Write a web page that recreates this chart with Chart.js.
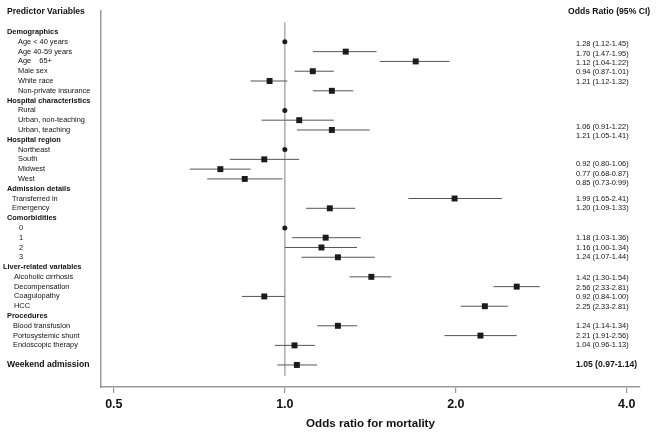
<!DOCTYPE html>
<html><head><meta charset="utf-8">
<script src="https://cdn.jsdelivr.net/npm/chart.js@4.4.1/dist/chart.umd.min.js"></script>
<style>html,body{margin:0;padding:0;background:#fff}#wrap{width:656px;height:434px;position:relative}</style>
</head><body><div id="wrap"><canvas id="c" width="656" height="434"></canvas></div>
<script>
// ---- data ----
const rowLabels = ['Demographics','Age < 40 years','Age 40-59 years','Age    65+','Male sex','White race','Non-private insurance',
  'Hospital characteristics','Rural','Urban, non-teaching','Urban, teaching',
  'Hospital region','Northeast','South','Midwest','West',
  'Admission details','Transferred in','Emergency',
  'Comorbidities','0','1','2','3',
  'Liver-related variables','Alcoholic cirrhosis','Decompensation','Coagulopathy','HCC',
  'Procedures','Blood transfusion','Portosystemic shunt','Endoscopic therapy','','Weekend admission'];
const sectionHeaders = ['Demographics','Hospital characteristics','Hospital region','Admission details','Comorbidities','Liver-related variables','Procedures'];
const boldRows = ['Weekend admission'];
const oddsRatio = [null,1,1.28,1.70,1.12,0.94,1.21, null,1,1.06,1.21, null,1,0.92,0.77,0.85, null,1.99,1.20, null,1,1.18,1.16,1.24, null,1.42,2.56,0.92,2.25, null,1.24,2.21,1.04, null,1.05];
const ciLow     = [null,null,1.12,1.47,1.04,0.87,1.12, null,null,0.91,1.05, null,null,0.80,0.68,0.73, null,1.65,1.09, null,null,1.03,1.00,1.07, null,1.30,2.33,0.84,2.04, null,1.14,1.91,0.96, null,0.97];
const ciHigh    = [null,null,1.45,1.95,1.22,1.01,1.32, null,null,1.22,1.41, null,null,1.06,0.87,0.99, null,2.41,1.33, null,null,1.36,1.34,1.44, null,1.54,2.81,1.00,2.47, null,1.34,2.56,1.13, null,1.14];
const ciText = ['1.28 (1.12-1.45)','1.70 (1.47-1.95)','1.12 (1.04-1.22)','0.94 (0.87-1.01)','1.21 (1.12-1.32)',
  '1.06 (0.91-1.22)','1.21 (1.05-1.41)',
  '0.92 (0.80-1.06)','0.77 (0.68-0.87)','0.85 (0.73-0.99)',
  '1.99 (1.65-2.41)','1.20 (1.09-1.33)',
  '1.18 (1.03-1.36)','1.16 (1.00-1.34)','1.24 (1.07-1.44)',
  '1.42 (1.30-1.54)','2.56 (2.33-2.81)','0.92 (0.84-1.00)','2.25 (2.33-2.81)',
  '1.24 (1.14-1.34)','2.21 (1.91-2.56)','1.04 (0.96-1.13)',
  '1.05 (0.97-1.14)'];
const ciTextRow = [1.25,2.2,3.2,4.1,5.1, 9.7,10.65, 13.45,14.45,15.45, 17,18, 21,22,23, 25.1,26.1,27.1,28.1, 30,31,32, 33.95];
const ciTextBold = ['1.05 (0.97-1.14)'];
const xTicks = [0.5, 1.0, 2.0, 4.0];
const referenceValue = 1;
const leftTitle = 'Predictor Variables';
const rightTitle = 'Odds Ratio (95% CI)';
const xTitle = 'Odds ratio for mortality';

// ---- styles ----
const FONT = '"Liberation Sans", Arial, Helvetica, sans-serif';
const sectionIndent = {'Demographics':18,'Hospital characteristics':18,'Hospital region':18,'Admission details':12,'Comorbidities':19,'Liver-related variables':14,'Procedures':13};
const headerX = {'Liver-related variables':3};

const squares = [], dots = [], whiskers = [];
rowLabels.forEach((l, i) => {
  if (oddsRatio[i] == null) return;
  if (ciLow[i] != null) {
    squares.push({x: oddsRatio[i], y: i});
    whiskers.push({
      data: [{x: ciLow[i], y: i}, {x: ciHigh[i], y: i}],
      showLine: true, borderColor: '#555', borderWidth: 1, pointRadius: 0, order: 2
    });
  } else {
    dots.push({x: oddsRatio[i], y: i});
  }
});

const textPlugin = {
  id: 'forestText',
  afterDraw(chart) {
    const ctx = chart.ctx, ys = chart.scales.y;
    ctx.save();
    ctx.textBaseline = 'middle';
    ctx.fillStyle = '#111';
    ctx.textAlign = 'left';
    ctx.font = 'bold 8.6px ' + FONT;
    ctx.fillText(leftTitle, 7, ys.getPixelForValue(-2.1));
    ctx.fillText(rightTitle, 568, ys.getPixelForValue(-2.1));
    let section = null;
    rowLabels.forEach((l, i) => {
      if (!l) return;
      const y = ys.getPixelForValue(i);
      if (sectionHeaders.includes(l)) {
        section = l;
        ctx.font = 'bold 7.4px ' + FONT;
        ctx.fillText(l, headerX[l] != null ? headerX[l] : 7, y);
      } else if (boldRows.includes(l)) {
        ctx.font = 'bold 8.6px ' + FONT;
        ctx.fillText(l, 7, y);
      } else {
        ctx.font = '7.4px ' + FONT;
        ctx.fillText(l, sectionIndent[section] || 16, y);
      }
    });
    ciText.forEach((t, k) => {
      const y = ys.getPixelForValue(ciTextRow[k]);
      if (ciTextBold.includes(t)) ctx.font = 'bold 8.6px ' + FONT; else ctx.font = '7.4px ' + FONT;
      ctx.fillText(t, 576, y);
    });
    ctx.restore();
  }
};

new Chart(document.getElementById('c'), {
  type: 'scatter',
  data: {
    datasets: [
      {data: squares, pointStyle: 'rect', pointRadius: 4.2, backgroundColor: '#1b1b1b', borderWidth: 0, order: 0},
      {data: dots, pointStyle: 'circle', pointRadius: 2.5, backgroundColor: '#1b1b1b', borderWidth: 0, order: 0},
      ...whiskers,
      {data: [{x: referenceValue, y: -1}, {x: referenceValue, y: 35.1}], showLine: true, borderColor: '#aaa', borderWidth: 1.5, pointRadius: 0, order: 3}
    ]
  },
  options: {
    responsive: false, animation: false, devicePixelRatio: 1,
    layout: {padding: {left: 101, right: 16, top: 11, bottom: 0}},
    plugins: {legend: {display: false}, tooltip: {enabled: false}},
    scales: {
      x: {
        type: 'logarithmic', position: 'bottom', min: 0.4746, max: 4.22,
        afterBuildTicks: s => { s.ticks = xTicks.map(v => ({value: v})); },
        afterFit: s => { s.height = 47; },
        ticks: {callback: v => Number(v).toFixed(1), font: {family: FONT, size: 12.5, weight: 'bold'}, color: '#111', padding: 4, autoSkip: false, maxRotation: 0},
        grid: {drawOnChartArea: false, drawTicks: true, tickLength: 6, color: '#999', lineWidth: 1.2},
        border: {display: true, color: '#999', width: 1.5},
        title: {display: true, text: xTitle, font: {family: FONT, size: 11.6, weight: 'bold'}, color: '#111', padding: {top: 4, bottom: 3}}
      },
      y: {
        type: 'linear', reverse: true, min: -2.15, max: 36.25,
        ticks: {display: false},
        grid: {display: false, drawTicks: false, tickLength: 0},
        border: {display: true, color: '#999', width: 1.5}
      }
    }
  },
  plugins: [textPlugin]
});
</script></body></html>
